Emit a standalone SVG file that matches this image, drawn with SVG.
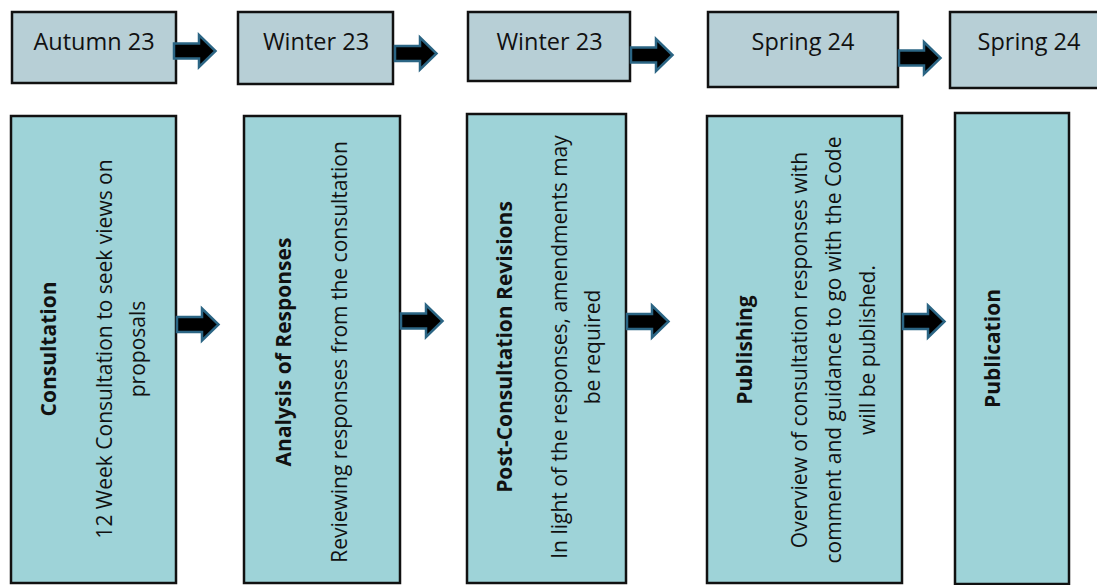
<svg xmlns="http://www.w3.org/2000/svg" width="1097" height="585" viewBox="0 0 1097 585">
<style>
.top{fill:#B7CFD6;stroke:#111;stroke-width:2.5}
.bot{fill:#9ED3D8;stroke:#111;stroke-width:2.5}
.tl{font-family:"Open Sans","Noto Sans",sans-serif;font-size:23.5px;fill:#111;text-anchor:middle}
.bl{font-family:"Open Sans","Noto Sans",sans-serif;font-size:21px;fill:#111;text-anchor:middle}
.b{font-weight:bold}
.arr{fill:#000;stroke:#2B6584;stroke-width:2.5;stroke-linejoin:miter}
</style>
<defs>
<path id="arrow" d="M1,-7.5 H26 V-16 L42.5,0 L26,16 V7.5 H1 Z"/>
</defs>
<rect width="1097" height="585" fill="#fff"/>
<g id="t1"><rect class="top" x="12" y="12" width="164" height="71"/><text class="tl" x="94" y="49.5">Autumn 23</text></g>
<g id="t2"><rect class="top" x="238" y="12" width="155" height="72"/><text class="tl" x="316" y="50">Winter 23</text></g>
<g id="t3"><rect class="top" x="468" y="12" width="162" height="69"/><text class="tl" x="549.5" y="50">Winter 23</text></g>
<g id="t4"><rect class="top" x="708" y="12" width="190" height="75"/><text class="tl" x="803" y="50">Spring 24</text></g>
<g id="t5"><rect class="top" x="950" y="12" width="160" height="76"/><text class="tl" x="1029" y="50">Spring 24</text></g>

<g id="n1"><rect class="bot" x="11" y="116" width="165" height="467"/>
<g transform="translate(11,349) rotate(-90)">
<text class="bl b" x="0" y="45">Consultation</text>
<text class="bl" x="0" y="101">12 Week Consultation to seek views on</text>
<text class="bl" x="0" y="134">proposals</text>
</g></g>
<g id="n2"><rect class="bot" x="244" y="116" width="156" height="467"/>
<g transform="translate(244,352) rotate(-90)">
<text class="bl b" x="0" y="47">Analysis of Responses</text>
<text class="bl" x="0" y="103">Reviewing responses from the consultation</text>
</g></g>
<g id="n3"><rect class="bot" x="467" y="114" width="159" height="469"/>
<g transform="translate(467,347) rotate(-90)">
<text class="bl b" x="0" y="45">Post-Consultation Revisions</text>
<text class="bl" x="0" y="100">In light of the responses, amendments may</text>
<text class="bl" x="0" y="133">be required</text>
</g></g>
<g id="n4"><rect class="bot" x="707" y="116" width="195" height="467"/>
<g transform="translate(707,350) rotate(-90)">
<text class="bl b" x="0" y="45">Publishing</text>
<text class="bl" x="0" y="100">Overview of consultation responses with</text>
<text class="bl" x="0" y="134">comment and guidance to go with the Code</text>
<text class="bl" x="0" y="168">will be published.</text>
</g></g>
<g id="n5"><rect class="bot" x="955" y="113" width="114" height="471"/>
<g transform="translate(955,348.5) rotate(-90)">
<text class="bl b" x="0" y="45">Publication</text>
</g></g>

<g id="connectors">
<use href="#arrow" class="arr" transform="translate(173,51)"/>
<use href="#arrow" class="arr" transform="translate(394,53.5)"/>
<use href="#arrow" class="arr" transform="translate(630,55)"/>
<use href="#arrow" class="arr" transform="translate(898,58)"/>
<use href="#arrow" class="arr" transform="translate(176,324.5)"/>
<use href="#arrow" class="arr" transform="translate(400,321)"/>
<use href="#arrow" class="arr" transform="translate(626,321.5)"/>
<use href="#arrow" class="arr" transform="translate(902,321.5)"/>
</g>
</svg>
